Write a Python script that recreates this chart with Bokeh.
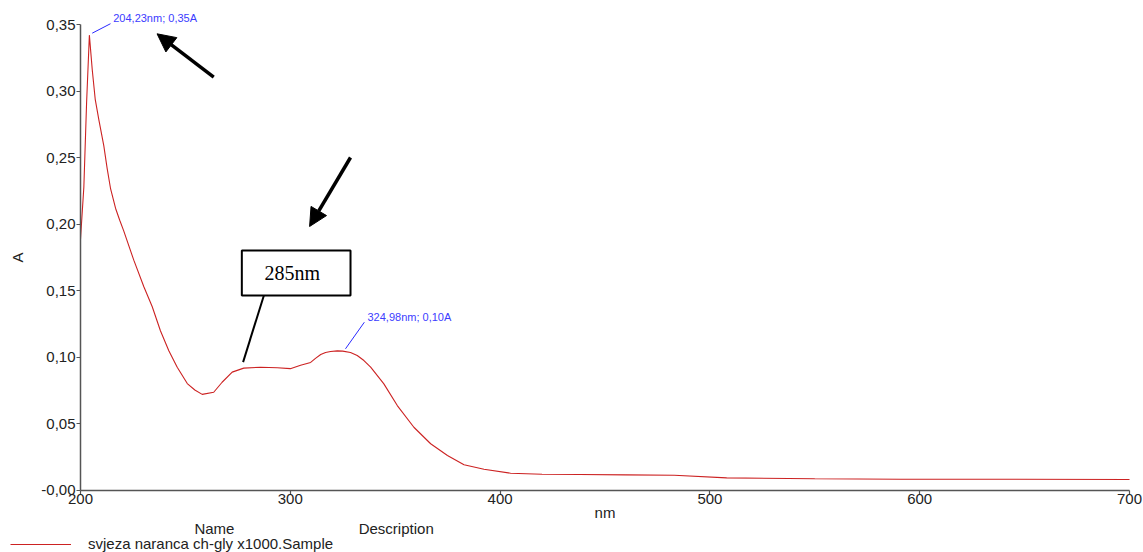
from bokeh.plotting import figure
from bokeh.models import (Range1d, FixedTicker, CustomJSTickFormatter, Label, Arrow,
                          NormalHead, BoxAnnotation, Legend, LegendItem)
from bokeh.embed import file_html
from bokeh.resources import INLINE

# Spectrum: wavelength (nm) and absorbance (A)
wavelength = [200.0, 201.6, 202.9, 204.23, 205.6, 207.0, 208.8, 211.1, 212.7, 214.3, 216.7,
              218.7, 220.6, 225.4, 230.2, 234.2, 238.1, 242.1, 246.1, 250.9, 254.5, 258.0,
              263.5, 267.5, 272.3, 277.8, 285.8, 293.8, 300.0, 304.9, 309.7, 312.0, 314.5,
              316.8, 319.2, 322.4, 324.98, 328.7, 331.9, 335.1, 338.3, 344.6, 351.0, 358.9,
              366.9, 374.9, 382.8, 392.3, 405.0, 420.0, 438.0, 460.0, 483.0, 508.0, 550.0,
              591.0, 640.0, 700.0]
absorbance = [0.189, 0.228, 0.291, 0.342, 0.316, 0.294, 0.278, 0.259, 0.242, 0.227, 0.212,
              0.203, 0.195, 0.173, 0.153, 0.138, 0.120, 0.105, 0.0926, 0.0803, 0.0755, 0.0722,
              0.0738, 0.0813, 0.0889, 0.0919, 0.0926, 0.0922, 0.0915, 0.094, 0.0962, 0.0992,
              0.1021, 0.1037, 0.1044, 0.1049, 0.1047, 0.1037, 0.1014, 0.0976, 0.0926, 0.0801,
              0.0638, 0.0475, 0.0351, 0.0263, 0.0193, 0.0160, 0.0130, 0.0122, 0.0120, 0.0117,
              0.0115, 0.0095, 0.0088, 0.0085, 0.0085, 0.0083]

x_ticks = [200, 300, 400, 500, 600, 700]
y_ticks = [0.0, 0.05, 0.10, 0.15, 0.20, 0.25, 0.30, 0.35]

peak_labels = ["204,23nm; 0,35A", "324,98nm; 0,10A"]
box_text = "285nm"
legend_name = "svjeza naranca ch-gly x1000.Sample"

FONT = "Liberation Sans"
RED = "#cc2222"

p = figure(width=1143, height=552, min_border=0,
           min_border_left=0, min_border_right=0, min_border_top=0, min_border_bottom=0,
           x_range=Range1d(161.87, 706.67), y_range=Range1d(-0.04657, 0.36803),
           output_backend="svg", toolbar_location=None)
p.outline_line_color = None
p.xgrid.visible = False
p.ygrid.visible = False
p.background_fill_color = "white"
p.border_fill_color = "white"

curve = p.line(wavelength, absorbance, line_color=RED, line_width=1.1)

for ax in (p.xaxis[0], p.yaxis[0]):
    ax.axis_line_color = "#555555"
    ax.axis_line_width = 1.5
    ax.major_tick_line_color = "#555555"
    ax.major_tick_line_width = 1.2
    ax.minor_tick_line_color = None
    ax.major_tick_in = 0
    ax.major_label_text_font = FONT
    ax.major_label_text_font_size = "15px"
    ax.major_label_text_color = "#222222"
    ax.axis_label_text_font = FONT
    ax.axis_label_text_font_style = "normal"
    ax.axis_label_text_font_size = "15px"
    ax.axis_label_text_color = "#222222"

p.xaxis.fixed_location = 0
p.xaxis.bounds = (200, 700)
p.xaxis.ticker = FixedTicker(ticks=x_ticks)
p.xaxis.major_tick_out = 4
p.xaxis.major_label_standoff = 0
p.xaxis.axis_label = "nm"
p.xaxis.axis_label_standoff = -4

p.yaxis.fixed_location = 200
p.yaxis.bounds = (0, 0.35)
p.yaxis.ticker = FixedTicker(ticks=y_ticks)
p.yaxis.major_tick_out = 4
p.yaxis.major_label_standoff = 1
p.yaxis.formatter = CustomJSTickFormatter(code="""
if (Math.abs(tick) < 1e-9) { return "-0,00"; }
return tick.toFixed(2).replace('.', ',');
""")
p.yaxis.axis_label = "A"
p.yaxis.axis_label_standoff = 12

# Peak annotations (blue)
p.add_layout(Arrow(end=None, x_start=205.6, y_start=0.3435, x_end=214.3, y_end=0.3506,
                   line_color="#2a2aff", line_width=1))
p.add_layout(Label(x=215.6, y=0.3550, text=peak_labels[0], text_font=FONT,
                   text_font_size="11px", text_color="#3c3cff", text_baseline="middle"))
p.add_layout(Arrow(end=None, x_start=326.3, y_start=0.1064, x_end=335.3, y_end=0.1264,
                   line_color="#2a2aff", line_width=1))
p.add_layout(Label(x=336.8, y=0.1302, text=peak_labels[1], text_font=FONT,
                   text_font_size="11px", text_color="#3c3cff", text_baseline="middle"))

# Black arrows
p.add_layout(Arrow(end=NormalHead(size=18, fill_color="black", line_color="black"),
                   x_start=263.5, y_start=0.3104, x_end=236.5, y_end=0.343,
                   line_color="black", line_width=3.5))
p.add_layout(Arrow(end=NormalHead(size=18, fill_color="black", line_color="black"),
                   x_start=328.7, y_start=0.2501, x_end=309.2, y_end=0.1983,
                   line_color="black", line_width=3.5))

# Callout box "285nm"
p.add_layout(BoxAnnotation(left=276.9, right=328.7, bottom=0.1465, top=0.1803,
                           fill_color="white", fill_alpha=1.0, line_color="black",
                           line_width=2, line_alpha=1.0))
p.add_layout(Label(x=301.0, y=0.1634, text=box_text, text_font="Liberation Serif",
                   text_font_size="20px", text_color="black", text_align="center",
                   text_baseline="middle"))
p.add_layout(Arrow(end=None, x_start=287.4, y_start=0.1465, x_end=277.5, y_end=0.0964,
                   line_color="black", line_width=2))

# Legend block below the axis
p.add_layout(Label(x=254.3, y=-0.0283, text="Name", text_font=FONT, text_font_size="15px",
                   text_color="#222222", text_baseline="middle"))
p.add_layout(Label(x=332.6, y=-0.0283, text="Description", text_font=FONT,
                   text_font_size="15px", text_color="#222222", text_baseline="middle"))

legend = Legend(items=[LegendItem(label=legend_name, renderers=[curve])],
                location=(10, 0), padding=0, margin=0, spacing=0,
                glyph_width=61, glyph_height=14, label_height=14, label_standoff=17,
                label_text_font=FONT, label_text_font_size="15px",
                label_text_color="#222222", border_line_color=None,
                background_fill_alpha=0.0)
p.add_layout(legend)

open("out.html", "w").write(file_html(p, INLINE))
